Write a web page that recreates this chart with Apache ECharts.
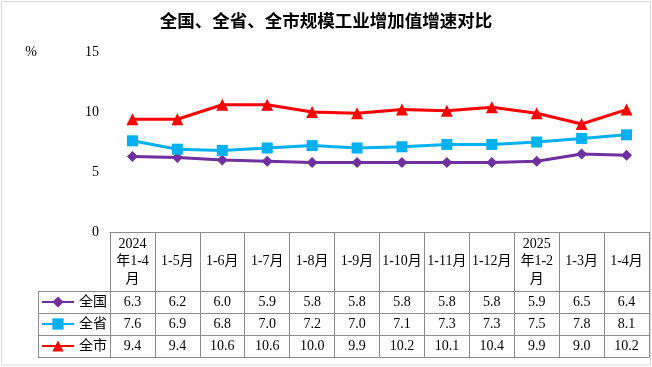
<!DOCTYPE html>
<html>
<head>
<meta charset="utf-8">
<script src="https://cdn.jsdelivr.net/npm/echarts@6/dist/echarts.min.js"></script>
<style>
html,body{margin:0;padding:0;background:#fff;}
#chart{width:652px;height:367px;}
</style>
</head>
<body>
<div id="chart"></div>
<script>
var categories = ['2024\n年1-4\n月', '1-5月', '1-6月', '1-7月', '1-8月', '1-9月', '1-10月', '1-11月', '1-12月', '2025\n年1-2\n月', '1-3月', '1-4月'];
var national = [6.3, 6.2, 6.0, 5.9, 5.8, 5.8, 5.8, 5.8, 5.8, 5.9, 6.5, 6.4];
var province = [7.6, 6.9, 6.8, 7.0, 7.2, 7.0, 7.1, 7.3, 7.3, 7.5, 7.8, 8.1];
var city = [9.4, 9.4, 10.6, 10.6, 10.0, 9.9, 10.2, 10.1, 10.4, 9.9, 9.0, 10.2];
var seriesNames = ['全国', '全省', '全市'];
var yTicks = [0, 5, 10, 15];

var SERIF = '"Liberation Serif", "Noto Sans CJK SC", serif';
var GRID_LINE = '#8c8c8c';
var fmt = function (v) { return v.toFixed(1); };

var chart = echarts.init(document.getElementById('chart'), null, {renderer: 'canvas'});

function rowAxis(values, offset) {
  return {
    type: 'category', gridIndex: 0, position: 'bottom', offset: offset,
    data: values ? values.map(fmt) : categories.map(function () { return ''; }),
    boundaryGap: true,
    axisLine: {show: true, lineStyle: {color: GRID_LINE, width: 1}},
    axisTick: {show: false},
    axisLabel: {show: !!values, interval: 0, margin: 11, verticalAlign: 'middle',
      fontFamily: SERIF, fontSize: 14, color: '#000'}
  };
}

var option = {
  backgroundColor: '#fff',
  animation: false,
  title: {
    text: '全国、全省、全市规模工业增加值增速对比',
    left: 'center', top: 12, padding: 0,
    textStyle: {fontFamily: '"Noto Sans CJK SC", sans-serif', fontSize: 17.5, fontWeight: 'bold', color: '#000'}
  },
  legend: {
    orient: 'vertical', left: 41, top: 295, padding: 0,
    itemWidth: 32, itemHeight: 14, itemGap: 8,
    data: seriesNames,
    textStyle: {fontFamily: SERIF, fontSize: 14, color: '#000'}
  },
  graphic: [{
    type: 'rect', silent: true,
    shape: {x: 1.5, y: 1.5, width: 649, height: 363.5},
    style: {fill: 'none', stroke: '#d9d9d9', lineWidth: 1}
  }],
  grid: [
    {left: 110, right: 3, top: 52, height: 180},
    {left: 38, width: 72, top: 291, height: 66}
  ],
  xAxis: [
    {
      type: 'category', gridIndex: 0, position: 'bottom', data: categories, boundaryGap: true,
      axisLine: {show: true, lineStyle: {color: GRID_LINE, width: 1}},
      axisTick: {show: true, length: 125, interval: 0, lineStyle: {color: GRID_LINE, width: 1}},
      axisLabel: {interval: 0, margin: 29.5, verticalAlign: 'middle', lineHeight: 17.5,
        fontFamily: SERIF, fontSize: 14, color: '#000'}
    },
    rowAxis(national, 59),
    rowAxis(province, 81),
    rowAxis(city, 103),
    rowAxis(null, 125),
    {
      type: 'category', gridIndex: 1, data: [''], boundaryGap: true,
      axisLine: {show: false}, axisTick: {show: false}, axisLabel: {show: false},
      splitLine: {show: true, lineStyle: {color: GRID_LINE, width: 1}}
    }
  ],
  yAxis: [
    {
      type: 'value', gridIndex: 0, min: yTicks[0], max: yTicks[yTicks.length - 1], interval: 5,
      name: '%', nameLocation: 'end', nameGap: 0,
      nameTextStyle: {fontFamily: SERIF, fontSize: 14, color: '#000', align: 'right', verticalAlign: 'middle', padding: [0, 73, 0, 0]},
      axisLine: {show: false}, axisTick: {show: false}, splitLine: {show: false},
      axisLabel: {margin: 11, fontFamily: SERIF, fontSize: 14, color: '#000'}
    },
    {
      type: 'category', gridIndex: 1, data: seriesNames, inverse: true, boundaryGap: true,
      axisLine: {show: false}, axisTick: {show: false}, axisLabel: {show: false},
      splitLine: {show: true, lineStyle: {color: GRID_LINE, width: 1}}
    }
  ],
  series: [
    {name: seriesNames[0], type: 'line', xAxisIndex: 0, yAxisIndex: 0, data: national,
      symbol: 'diamond', symbolSize: 11, color: '#7030A0', lineStyle: {width: 3}, itemStyle: {color: '#7030A0'}},
    {name: seriesNames[1], type: 'line', xAxisIndex: 0, yAxisIndex: 0, data: province,
      symbol: 'rect', symbolSize: 11, color: '#00B0F0', lineStyle: {width: 3}, itemStyle: {color: '#00B0F0'}},
    {name: seriesNames[2], type: 'line', xAxisIndex: 0, yAxisIndex: 0, data: city,
      symbol: 'triangle', symbolSize: 12, color: '#FF0000', lineStyle: {width: 3}, itemStyle: {color: '#FF0000'}}
  ]
};
chart.setOption(option);
</script>
</body>
</html>
